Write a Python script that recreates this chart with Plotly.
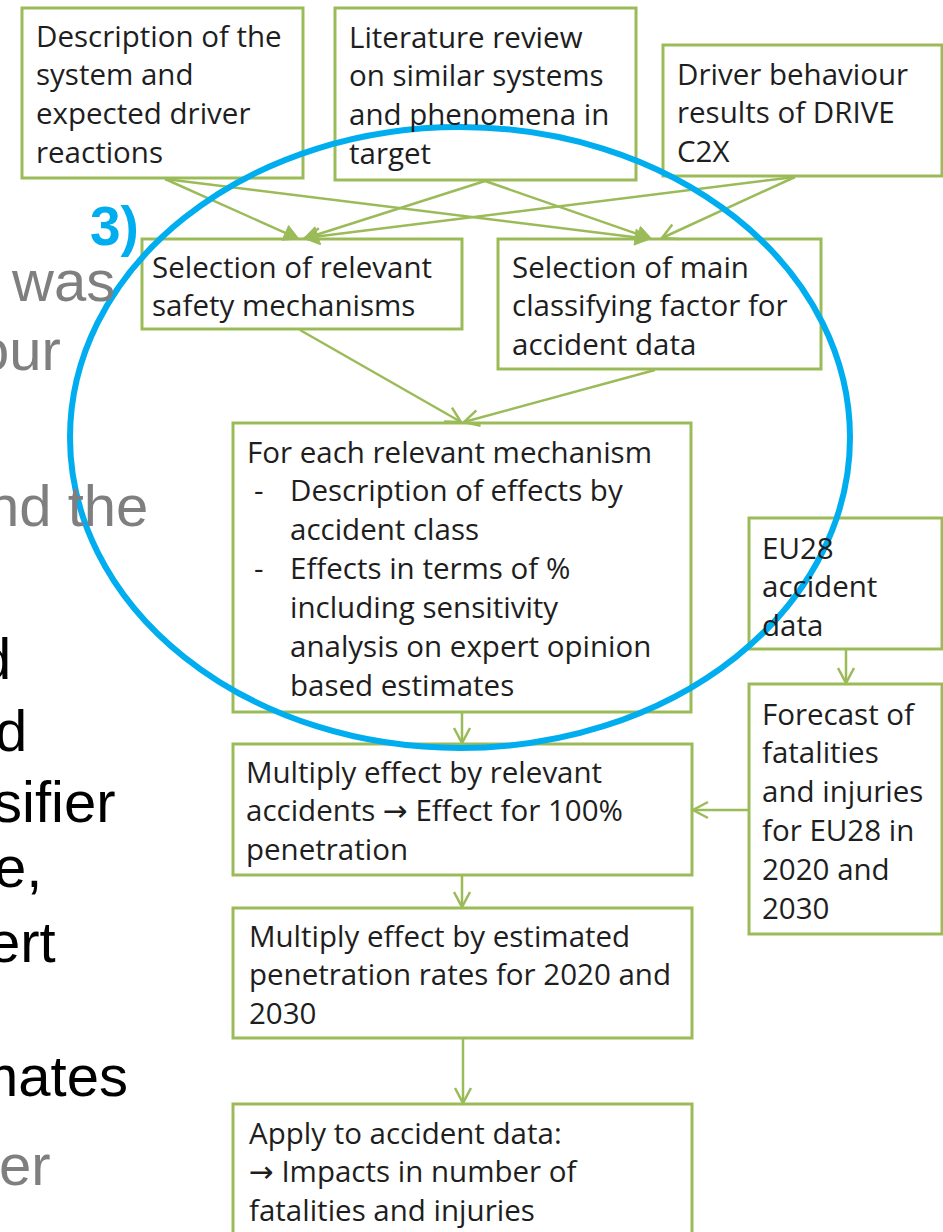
import math
import plotly.graph_objects as go

# ---------------- content ----------------
ARW = '<span style="font-family:DejaVu Sans">\u2192</span>'
box_lines = {
    "b1": ["Description of the", "system and", "expected driver", "reactions"],
    "b2": ["Literature review", "on similar systems", "and phenomena in", "target"],
    "b3": ["Driver behaviour", "results of DRIVE", "C2X"],
    "b4": ["Selection of relevant", "safety mechanisms"],
    "b5": ["Selection of main", "classifying factor for", "accident data"],
    "b6": ["For each relevant mechanism", "-", "Description of effects by", "accident class",
           "-", "Effects in terms of %", "including sensitivity",
           "analysis on expert opinion", "based estimates"],
    "b7": ["Multiply effect by relevant", f"accidents {ARW} Effect for 100%", "penetration"],
    "b8": ["Multiply effect by estimated", "penetration rates for 2020 and", "2030"],
    "b9": ["Apply to accident data:", f"{ARW} Impacts in number of", "fatalities and injuries"],
    "b10": ["EU28", "accident", "data"],
    "b11": ["Forecast of", "fatalities", "and injuries", "for EU28 in", "2020 and", "2030"],
}
side_words = ["was", "our", "nd the", "d", "d", "sifier", "e,", "ert", "mates", "er"]
side_colors = ["#7f7f7f", "#7f7f7f", "#7f7f7f", "#000000", "#000000", "#000000",
               "#000000", "#000000", "#000000", "#7f7f7f"]
label_text = "3)"
edges = [("b1", "b4"), ("b1", "b5"), ("b2", "b4"), ("b2", "b5"), ("b3", "b4"), ("b3", "b5"),
         ("b4", "b6"), ("b5", "b6"), ("b6", "b7"), ("b7", "b8"), ("b8", "b9"),
         ("b10", "b11"), ("b11", "b7")]

# ---------------- layout geometry (pixels) ----------------
W, H = 943, 1232
rects = {
    "b1": (22, 8, 303, 178), "b2": (335, 8, 636, 180), "b3": (663, 45, 942, 176),
    "b4": (142, 239, 462, 329), "b5": (498, 239, 821, 369),
    "b6": (233, 423, 691, 712), "b7": (233, 744, 692, 875), "b8": (233, 908, 692, 1038),
    "b9": (233, 1104, 692, 1245), "b10": (749, 518, 942, 649), "b11": (749, 684, 942, 934),
}
first_line = {"b1": 35, "b2": 36, "b3": 73, "b4": 266, "b5": 266, "b6": 451, "b7": 771,
              "b8": 935, "b9": 1132, "b10": 547, "b11": 713}
text_x = {"b1": 34, "b2": 347, "b3": 675, "b4": 150, "b5": 510, "b6": 245, "b7": 244,
          "b8": 247, "b9": 247, "b10": 760, "b11": 760}
dash_x, sub_x = 252, 288
line_gap = 38.9
edge_pts = {
    ("b1", "b4"): ((165, 179), (299, 239), "fill"),
    ("b1", "b5"): ((165, 179), (650, 239), "fill"),
    ("b2", "b4"): ((485, 181), (303, 239), "fill"),
    ("b2", "b5"): ((485, 181), (652, 239), "fill"),
    ("b3", "b4"): ((795, 177), (305, 238), "open"),
    ("b3", "b5"): ((795, 177), (662, 238), "open"),
    ("b4", "b6"): ((300, 330), (461, 422), "open"),
    ("b5", "b6"): ((655, 370), (464, 422), "open"),
    ("b6", "b7"): ((462, 713), (462, 743), "open"),
    ("b7", "b8"): ((462, 876), (462, 907), "open"),
    ("b8", "b9"): ((463, 1039), (463, 1103), "open"),
    ("b10", "b11"): ((846, 650), (846, 683), "open"),
    ("b11", "b7"): ((748, 810), (693, 810), "open"),
}
side_pos = [(117, 280), (63, 349), (150, 505), (13, 658), (29, 730), (117, 801),
            (44, 866), (58, 941), (130, 1075), (53, 1164)]

GREEN = "#9bbb59"
BLUE = "#00aeef"

fig = go.Figure()
shapes = []
annotations = []

# boxes
for k, (x0, y0, x1, y1) in rects.items():
    shapes.append(dict(type="rect", x0=x0, y0=y0, x1=x1, y1=y1,
                       line=dict(color=GREEN, width=3), fillcolor="white", layer="above"))


def arrow(p0, p1, style):
    (x0, y0), (x1, y1) = p0, p1
    L = math.hypot(x1 - x0, y1 - y0)
    dx, dy = (x1 - x0) / L, (y1 - y0) / L
    px, py = -dy, dx
    hl, hw = 15, 8
    bx, by = x1 - hl * dx, y1 - hl * dy
    a = (bx + hw * px, by + hw * py)
    b = (bx - hw * px, by - hw * py)
    end = (bx, by) if style == "fill" else (x1, y1)
    shapes.append(dict(type="line", x0=x0, y0=y0, x1=end[0], y1=end[1],
                       line=dict(color=GREEN, width=2.5), layer="above"))
    if style == "fill":
        path = f"M {a[0]},{a[1]} L {x1},{y1} L {b[0]},{b[1]} Z"
        shapes.append(dict(type="path", path=path, fillcolor=GREEN,
                           line=dict(color=GREEN, width=1), layer="above"))
    else:
        path = f"M {a[0]},{a[1]} L {x1},{y1} L {b[0]},{b[1]}"
        shapes.append(dict(type="path", path=path,
                           line=dict(color=GREEN, width=2.5), layer="above"))


for e in edges:
    p0, p1, st = edge_pts[e]
    arrow(p0, p1, st)

# box texts
BOXFONT = dict(family="Open Sans", size=29.5, color="#1e1e1e")
for k, lines in box_lines.items():
    if k == "b6":
        y = first_line[k]
        annotations.append(dict(x=text_x[k], y=y, text=lines[0], showarrow=False,
                                xanchor="left", yanchor="middle", font=BOXFONT))
        row = 1
        for t in lines[1:]:
            if t == "-":
                annotations.append(dict(x=dash_x, y=y + row * line_gap, text="-", showarrow=False,
                                        xanchor="left", yanchor="middle", font=BOXFONT))
                continue
            annotations.append(dict(x=sub_x, y=y + row * line_gap, text=t, showarrow=False,
                                    xanchor="left", yanchor="middle", font=BOXFONT))
            row += 1
        continue
    for i, t in enumerate(lines):
        annotations.append(dict(x=text_x[k], y=first_line[k] + i * line_gap, text=t,
                                showarrow=False, xanchor="left", yanchor="middle", font=BOXFONT))

# side text (cut off at left edge)
for w, c, (x, y) in zip(side_words, side_colors, side_pos):
    annotations.append(dict(x=x, y=y, text=w, showarrow=False, xanchor="right", yanchor="middle",
                            font=dict(family="Liberation Sans", size=58, color=c)))

annotations.append(dict(x=88, y=226, text=f"<b>{label_text}</b>", showarrow=False,
                        xanchor="left", yanchor="middle",
                        font=dict(family="Liberation Sans", size=55, color=BLUE)))

# ellipse
shapes.append(dict(type="circle", x0=70, y0=127, x1=850, y1=748,
                   line=dict(color=BLUE, width=6), layer="above"))

for a in annotations:
    a["xref"] = "x"
    a["yref"] = "y"

fig.update_layout(
    width=W, height=H, margin=dict(l=0, r=0, t=0, b=0),
    paper_bgcolor="white", plot_bgcolor="white",
    xaxis=dict(range=[0, W], visible=False, fixedrange=True),
    yaxis=dict(range=[H, 0], visible=False, fixedrange=True),
    shapes=shapes, annotations=annotations, showlegend=False,
)
fig.write_html("out.html", config={"displayModeBar": False},
               post_script="document.body.style.margin='0';document.body.style.padding='0';")
